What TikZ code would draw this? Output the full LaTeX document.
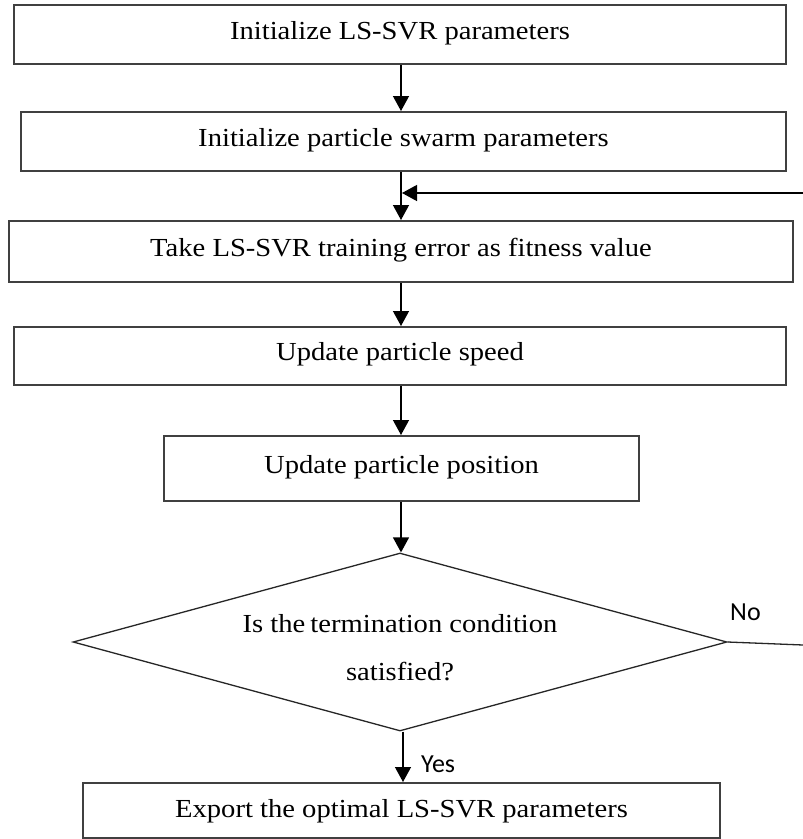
\documentclass[tikz,border=0pt]{standalone}
\usepackage{fontspec}
\setmainfont{Liberation Serif}[FakeStretch=1.1]
\newfontfamily\labfont{Carlito}
\usetikzlibrary{shapes.geometric,arrows.meta}
\definecolor{boxline}{HTML}{404040}
\tikzset{
  stepbox/.style={draw=boxline, line width=2pt, rectangle, inner sep=0pt,
    font=\fontsize{26}{31}\selectfont, text height=18pt, text depth=9pt},
  decision/.style={draw=black!85, line width=1.3pt, diamond, inner sep=0pt},
  txt/.style={font=\fontsize{26}{31}\selectfont, inner sep=0pt, anchor=base},
  lab/.style={font=\labfont\fontsize{26}{31}\selectfont, inner sep=0pt, anchor=base west},
  arr/.style={draw=black, line width=1.3pt, -{Triangle[length=15pt,width=16pt]}},
  ln/.style={draw=black!85, line width=1.3pt}
}
\begin{document}
\begin{tikzpicture}[x=1pt,y=-1pt]
\useasboundingbox (0,0) rectangle (803,839);
\fill[white] (0,0) rectangle (803,839);
\coordinate (axis) at (401,0);
\coordinate (axisb) at (403,0);
\node[stepbox, minimum width=772pt, minimum height=59pt] (b1) at (400,34.5) {Initialize LS-SVR parameters};
\node[stepbox, minimum width=765pt, minimum height=59pt] (b2) at (403.5,141.5) {Initialize particle swarm parameters};
\node[stepbox, minimum width=784pt, minimum height=61pt] (b3) at (401,251.5) {Take LS-SVR training error as fitness value};
\node[stepbox, minimum width=772pt, minimum height=58pt] (b4) at (400,356) {Update particle speed};
\node[stepbox, minimum width=475pt, minimum height=65pt] (b5) at (401.5,468.5) {Update particle position};
\node[decision, minimum width=654pt, minimum height=178pt] (cond) at (400,642) {};
\node[txt] (cond1) at (400,632) {Is the\kern-2pt\ termination condition};
\node[txt] (cond2) at (400,680) {satisfied?};
\node[stepbox, minimum width=637pt, minimum height=55pt, text height=20pt, text depth=7pt] (b6) at (401.5,810.5) {Export the optimal LS-SVR parameters};
\node[lab] (no) at (730,620) {No};
\node[lab] (yes) at (421,772) {Yes};
\coordinate (noend) at (803,645);
\coordinate (fbstart) at (803,193);
\coordinate (fbend) at (402,193);
\draw[arr] (b1.south -| axis) -- (b2.north -| axis);
\draw[arr] (b2.south -| axis) -- (b3.north -| axis);
\draw[arr] (b3.south -| axis) -- (b4.north -| axis);
\draw[arr] (b4.south -| axis) -- (b5.north -| axis);
\draw[arr] (b5.south -| axis) -- (cond.north -| axis);
\draw[arr] (cond.south -| axisb) -- (b6.north -| axisb);
\draw[ln] (cond.east) -- (noend);
\draw[arr] (fbstart) -- (fbend);
\end{tikzpicture}
\end{document}
